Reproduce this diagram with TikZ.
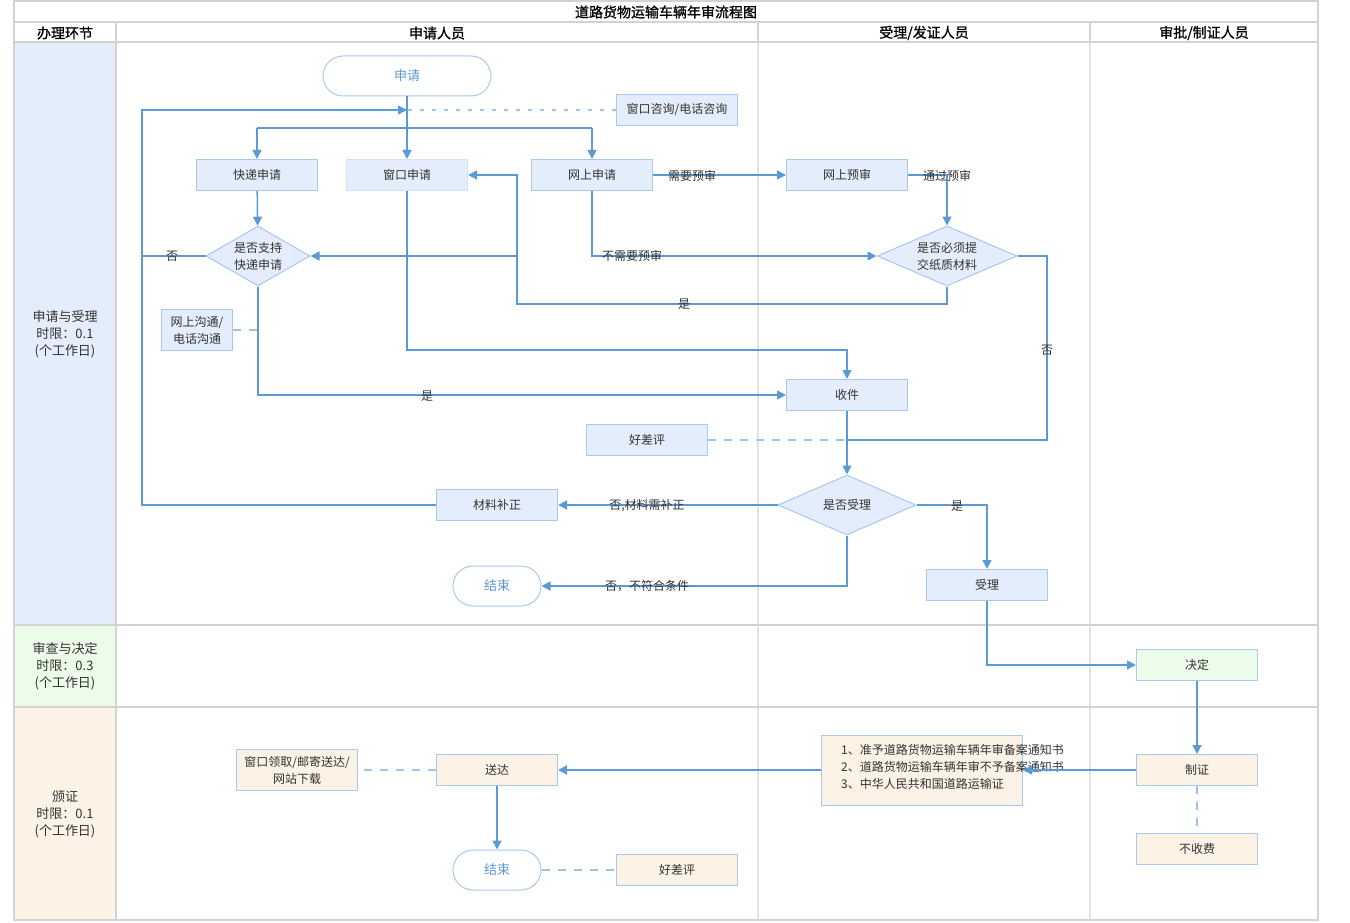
\documentclass[tikz,border=0pt]{standalone}
\usepackage{fontspec}
\setmainfont{Noto Sans CJK SC}
\newfontfamily\hdfont[FakeBold=1]{Noto Sans CJK SC}
\usetikzlibrary{shapes.geometric,arrows.meta}
\definecolor{lineblue}{HTML}{5B9BD5}
\definecolor{dashblue}{HTML}{9DC3E6}
\definecolor{nodeblue}{HTML}{E3EDFB}
\definecolor{borderblue}{HTML}{A9C8EC}
\definecolor{nodeorange}{HTML}{FDF2E6}
\definecolor{nodegreen}{HTML}{EBFDE8}
\definecolor{gridgray}{HTML}{D3D3D3}
\definecolor{gridlight}{HTML}{E3E3E3}
\definecolor{txt}{HTML}{333333}
\tikzset{
  proc/.style={draw=borderblue, fill=nodeblue, line width=1pt, minimum width=121pt, minimum height=31pt, inner sep=0pt, font=\fontsize{12}{17}\selectfont, text=txt, align=center},
  procO/.style={proc, fill=nodeorange},
  procG/.style={proc, fill=nodegreen},
  term/.style={draw=borderblue, fill=white, line width=1pt, rounded corners=20pt, minimum width=88pt, minimum height=40pt, inner sep=0pt, text=lineblue, font=\fontsize{13}{14}\selectfont},
  dia/.style={diamond, draw=borderblue, fill=nodeblue, inner sep=0pt, line width=1pt},
  dtext/.style={font=\fontsize{12}{17}\selectfont, text=txt, align=center, inner sep=0pt},
  flow/.style={draw=lineblue, line width=1.5pt, -{Triangle[length=9pt,width=9pt]}},
  link/.style={draw=lineblue, line width=1.5pt},
  dashlink/.style={draw=dashblue, line width=1.5pt, dash pattern=on 8pt off 8pt},
  elab/.style={font=\fontsize{12}{13}\selectfont, text=txt, inner sep=0pt},
  grid/.style={draw=gridgray, line width=2pt},
  gridlt/.style={draw=gridlight, line width=1.5pt},
  hdr/.style={font=\hdfont\fontsize{14}{15}\selectfont, text=black, inner sep=0pt},
  lane/.style={font=\fontsize{13}{17}\selectfont, text=txt, align=center, inner sep=0pt}
}
\begin{document}
\begin{tikzpicture}[x=1pt,y=-1pt]
\useasboundingbox (0,0) rectangle (1350,923);
% lanes background
\fill[nodeblue] (14,42) rectangle (116,625);
\fill[nodegreen] (14,625) rectangle (116,707);
\fill[nodeorange] (14,707) rectangle (116,920);
\draw[gridlt] (758,42) -- (758,920);
\draw[gridlt] (1090,42) -- (1090,920);
\draw[grid] (14,1) rectangle (1318,920);
\draw[grid] (14,22) -- (1318,22);
\draw[grid] (14,42) -- (1318,42);
\draw[grid] (14,625) -- (1318,625);
\draw[grid] (14,707) -- (1318,707);
\draw[grid] (116,22) -- (116,920);
\draw[grid] (758,22) -- (758,42);
\draw[grid] (1090,22) -- (1090,42);
% headers
\node[hdr] (title) at (666,12) {道路货物运输车辆年审流程图};
\node[hdr] (h1) at (65,33) {办理环节};
\node[hdr] (h2) at (437,33) {申请人员};
\node[hdr] (h3) at (924,33) {受理/发证人员};
\node[hdr] (h4) at (1204,33) {审批/制证人员};
\node[lane] (l1) at (65,334) {申请与受理\\时限：0.1\\(个工作日)};
\node[lane] (l2) at (65,666) {审查与决定\\时限：0.3\\(个工作日)};
\node[lane] (l3) at (65,814) {颁证\\时限：0.1\\(个工作日)};
% nodes
\node[term, minimum width=168pt] (start) at (407,76) {申请};
\node[proc] (consult) at (677,110) {窗口咨询/电话咨询};
\node[proc] (express) at (257,175) {快递申请};
\node[proc, draw=nodeblue!70!borderblue] (window) at (407,175) {窗口申请};
\node[proc] (online) at (592,175) {网上申请};
\node[proc] (pre) at (847,175) {网上预审};
\node[dia, minimum width=104pt, minimum height=60pt] (d1) at (258,256) {};
\node[dtext] (d1t) at (d1) {是否支持\\快递申请};
\node[dia, minimum width=140pt, minimum height=60pt] (d2) at (947,256) {};
\node[dtext] (d2t) at (d2) {是否必须提\\交纸质材料};
\node[proc, minimum width=71pt, minimum height=41pt] (comm) at (197,330) {网上沟通/\\电话沟通};
\node[proc] (recv) at (847,395) {收件};
\node[proc] (eval1) at (647,440) {好差评};
\node[dia, minimum width=138pt, minimum height=60pt] (d3) at (847,505) {};
\node[dtext] (d3t) at (d3) {是否受理};
\node[proc] (fix) at (497,505) {材料补正};
\node[term] (end1) at (497,586) {结束};
\node[proc] (accept) at (987,585) {受理};
\node[procG] (decide) at (1197,665) {决定};
\node[procO] (make) at (1197,770) {制证};
\node[procO] (free) at (1197,849) {不收费};
\node[procO, minimum width=201pt, minimum height=70pt] (docs) at (922,770) {};
\node[dtext, align=left, anchor=west] (docst) at (841,767) {1、准予道路货物运输车辆年审备案通知书\\2、道路货物运输车辆年审不予备案通知书\\3、中华人民共和国道路运输证};
\node[procO] (deliver) at (497,770) {送达};
\node[procO, minimum height=41pt] (pick) at (297,770) {窗口领取/邮寄送达/\\网站下载};
\node[term] (end2) at (497,870) {结束};
\node[procO] (eval2) at (677,870) {好差评};
% coordinates
\coordinate (j1) at (407,128);
\coordinate (loopL) at (142,110);
\coordinate (loopT) at (407,110);
\coordinate (yesX) at (517,304);
\coordinate (wjoin) at (407,350);
\coordinate (noR) at (1047,440);
% connectors
\draw[dashlink, dash pattern=on 4pt off 8pt] (consult.west) -- (loopT);
\draw[flow] (start) -- (window);
\draw[link] (express.north |- j1) -- (online.north |- j1);
\draw[flow] (express.north |- j1) -- (express.north);
\draw[flow] (online.north |- j1) -- (online.north);
\draw[flow] (d1.west) -- (d1.west -| loopL) -- (loopL) -- (loopT);
\draw[link] (fix.west) -- (fix.west -| loopL) -- (d1.west -| loopL);
\draw[flow] (express) -- (d1);
\draw[flow] (online) -- (pre);
\draw[flow] (pre.east) -| (d2.north);
\draw[flow] (online.south) |- (d2.west);
\draw[flow] (d2.south) |- (yesX) |- (window.east);
\draw[flow] (yesX |- d1.east) -- (d1.east);
\draw[flow] (d1.south) |- (recv.west);
\draw[dashlink] (comm.east) -- (comm.east -| d1.south);
\draw[flow] (window.south) -- (wjoin) -| (recv.north);
\draw[link] (d2.east) -| (noR) -- (noR -| recv.south);
\draw[dashlink] (eval1.east) -- (eval1.east -| recv.south);
\draw[flow] (recv) -- (d3);
\draw[flow] (d3.west) -- (fix.east);
\draw[flow] (d3.south) |- (end1.east);
\draw[flow] (d3.east) -| (accept.north);
\draw[flow] (accept.south) |- (decide.west);
\draw[flow] (decide) -- (make);
\draw[flow] (make) -- (docs);
\draw[dashlink] (make) -- (free);
\draw[flow] (docs) -- (deliver);
\draw[dashlink] (deliver) -- (pick);
\draw[flow] (deliver) -- (end2);
\draw[dashlink] (end2) -- (eval2);
% edge labels
\node[elab] (e1) at (692,176) {需要预审};
\node[elab] (e2) at (947,176) {通过预审};
\node[elab] (e3) at (632,256) {不需要预审};
\node[elab] (e4) at (684,304) {是};
\node[elab] (e5) at (172,256) {否};
\node[elab] (e6) at (427,396) {是};
\node[elab] (e7) at (1047,350) {否};
\node[elab] (e8) at (647,506) {否,材料需补正};
\node[elab] (e9) at (647,586) {否，不符合条件};
\node[elab] (e10) at (957,506) {是};
\end{tikzpicture}
\end{document}
